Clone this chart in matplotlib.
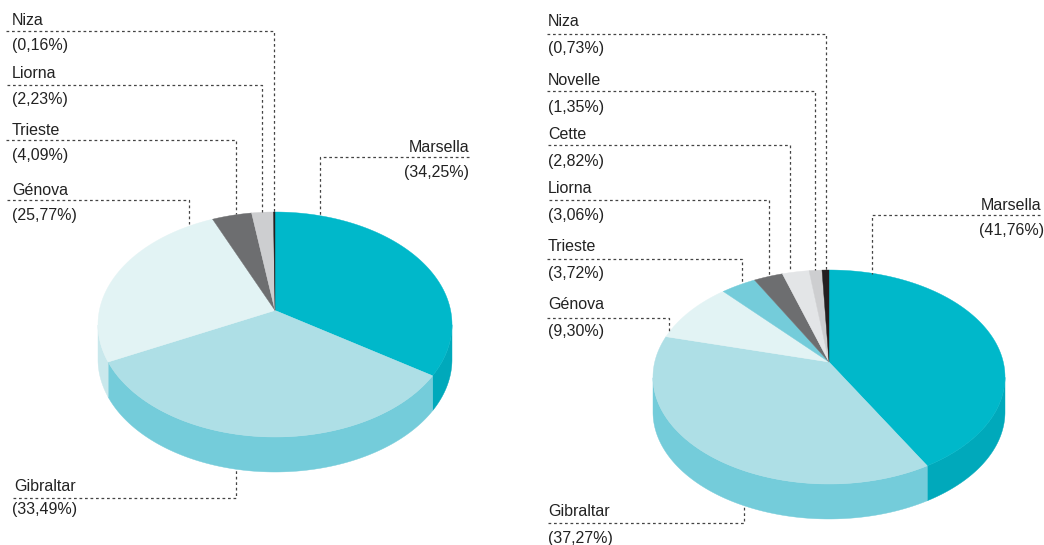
import numpy as np
import matplotlib.pyplot as plt

plt.rcParams['font.family'] = ['Liberation Sans', 'DejaVu Sans']

# left pie
ciudades_a = ['Marsella', 'Gibraltar', 'Génova', 'Trieste', 'Liorna', 'Niza']
valores_a = [34.25, 33.49, 25.77, 4.09, 2.23, 0.16]
colores_a = ['#00b8ca', '#aedfe6', '#e2f3f4', '#6d6e70', '#cdced0', '#231f20']
laterales_a = ['#00a9bb', '#74ccda', '#c9e8ec', '#6d6e70', '#cdced0', '#231f20']

# right pie
ciudades_b = ['Marsella', 'Gibraltar', 'Génova', 'Trieste', 'Liorna', 'Cette', 'Novelle', 'Niza']
valores_b = [41.76, 37.27, 9.30, 3.72, 3.06, 2.82, 1.35, 0.73]
colores_b = ['#00b8ca', '#aedfe6', '#e2f3f4', '#74ccda', '#6d6e70', '#e3e5e7', '#cdced0', '#231f20']
laterales_b = ['#00a9bb', '#74ccda', '#c9e8ec', '#74ccda', '#6d6e70', '#e3e5e7', '#cdced0', '#231f20']


def proyectar(ang, cx, cy, rx, ry, t):
    # circle to ellipse with the centre pushed back, so the slices look in perspective
    u = np.sin(ang)
    v = np.cos(ang)
    d = 1 + t * v
    X = u * np.sqrt(1 - t ** 2) / d
    Y = (v + t) / d
    return cx + rx * X, cy - ry * Y, Y


def tarta(ax, valores, colores, laterales, cx, cy, rx, ry, t, alto):
    fr = np.array(valores) / sum(valores)
    bordes = np.concatenate([[0], np.cumsum(fr)]) * 2 * np.pi
    # side wall first
    for i in range(len(fr)):
        ang = np.linspace(bordes[i], bordes[i + 1], 200)
        x, y, Y = proyectar(ang, cx, cy, rx, ry, t)
        ok = Y <= 0
        if ok.sum() > 1:
            xs = np.concatenate([x[ok], x[ok][::-1]])
            ys = np.concatenate([y[ok], y[ok][::-1] + alto])
            ax.fill(xs, ys, color=laterales[i], lw=0.3)
    # then the top
    tx, ty, _ = proyectar(np.array([0.0]), cx, cy, rx, ry, t)
    ty = cy - ry * t
    for i in range(len(fr)):
        ang = np.linspace(bordes[i], bordes[i + 1], 200)
        x, y, _ = proyectar(ang, cx, cy, rx, ry, t)
        ax.fill(np.r_[cx, x], np.r_[ty, y], color=colores[i], lw=0.3)


def guia(ax, xs, ys):
    ax.plot(xs, ys, color='#444444', lw=0.9, ls=(0, (2.2, 2.2)), zorder=1)


def etiqueta(ax, nombre, valor, x1, y1, x2, y2, ha='left'):
    ax.text(x1, y1, nombre, ha=ha, va='baseline', fontsize=11.5, color='#222222')
    txt = '(' + f'{valor:.2f}'.replace('.', ',') + '%)'
    ax.text(x2, y2, txt, ha=ha, va='baseline', fontsize=11.5, color='#222222')


fig = plt.figure(figsize=(10.44, 5.45), dpi=100)
ax = fig.add_axes([0, 0, 1, 1])
ax.set_xlim(0, 1044)
ax.set_ylim(545, 0)
ax.axis('off')

tarta(ax, valores_a, colores_a, laterales_a, 275, 324.5, 177, 112.5, 0.125, 35)
tarta(ax, valores_b, colores_b, laterales_b, 829, 377, 176, 107, 0.14, 35)

# left labels
guia(ax, [6, 274, 274], [31, 31, 212])
guia(ax, [7, 262, 262], [85, 85, 212])
guia(ax, [6, 236, 236], [140, 140, 214])
guia(ax, [7, 189, 189], [200, 200, 224])
guia(ax, [469, 320, 320], [157, 157, 215])
guia(ax, [13, 236, 236], [498, 498, 470])
pos_a = {'Niza': (12, 25, 12, 50), 'Liorna': (12, 78, 12, 104), 'Trieste': (12, 135, 12, 160),
         'Génova': (12, 195, 12, 220), 'Gibraltar': (14, 491, 12, 514)}
for n, v in zip(ciudades_a, valores_a):
    if n in pos_a:
        etiqueta(ax, n, v, *pos_a[n])
etiqueta(ax, ciudades_a[0], valores_a[0], 469, 152, 469, 177, ha='right')

# right labels
guia(ax, [547, 826, 826], [34, 34, 270])
guia(ax, [547, 815, 815], [91, 91, 270])
guia(ax, [548, 790, 790], [145, 145, 271])
guia(ax, [549, 769, 769], [200, 200, 275])
guia(ax, [547, 742, 742], [259, 259, 283])
guia(ax, [547, 669, 669], [318, 318, 331])
guia(ax, [1040, 872, 872], [215, 215, 274])
guia(ax, [548, 744, 744], [523, 523, 506])
pos_b = {'Niza': (548, 26, 548, 53), 'Novelle': (548, 85, 548, 112), 'Cette': (548, 139, 548, 166),
         'Liorna': (548, 193, 548, 220), 'Trieste': (548, 251, 548, 278), 'Génova': (548, 309, 548, 336),
         'Gibraltar': (548, 516, 548, 543)}
for n, v in zip(ciudades_b, valores_b):
    if n in pos_b:
        etiqueta(ax, n, v, *pos_b[n])
etiqueta(ax, ciudades_b[0], valores_b[0], 1041, 210, 1044, 235, ha='right')

fig.savefig('out.png', dpi=100)
